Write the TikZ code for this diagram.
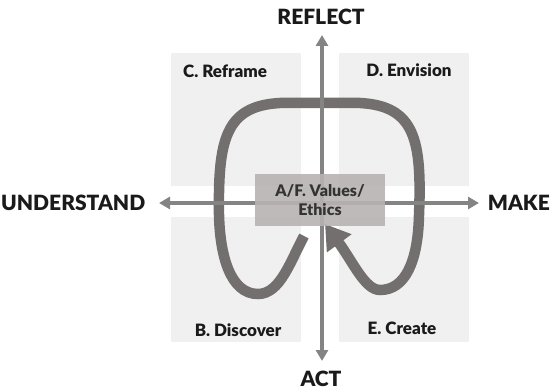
\documentclass[tikz,border=0pt]{standalone}
\usepackage{fontspec}
\setmainfont{Lato}[BoldFont={Lato Black}]
\usetikzlibrary{arrows.meta}
\definecolor{quadfill}{HTML}{F0F0F0}
\definecolor{axisgray}{HTML}{848484}
\definecolor{loopgray}{HTML}{736F6E}
\definecolor{corefill}{HTML}{B7B3B2}
\definecolor{labeltext}{HTML}{1A1A1A}
\definecolor{coretext}{HTML}{333333}
\begin{document}
\begin{tikzpicture}[x=1pt,y=-1pt,
  quad/.style={fill=quadfill,draw=none},
  axis/.style={draw=axisgray,line width=3.6pt,{Triangle[length=11pt,width=12pt]}-{Triangle[length=11pt,width=12pt]}},
  pole/.style={font=\bfseries\fontsize{21}{24}\selectfont,text=labeltext,inner sep=0pt},
  phase/.style={font=\bfseries\fontsize{17}{20}\selectfont,text=labeltext,inner sep=0pt},
  core/.style={fill=corefill,fill opacity=0.9,text opacity=1,text=coretext,
    font=\bfseries\fontsize{16}{19.5}\selectfont,align=center,
    minimum width=130pt,minimum height=51pt,inner sep=0pt},
  loop/.style={draw=loopgray,line width=10.5pt,line cap=butt}]
\useasboundingbox (0,0) rectangle (551,390);

% quadrant panels
\fill[quad] (171,53) rectangle (301,186);
\fill[quad] (339,53) rectangle (469,186);
\fill[quad] (171,217) rectangle (301,342);
\fill[quad] (339,217) rectangle (469,342);

% the process loop
\coordinate (loopstart) at (304,236);
\coordinate (looptip) at (325,224);
\draw[loop,-{Triangle[length=24pt,width=29pt]}] (loopstart)
  .. controls (290,262) and (280,294) .. (258,294)
  .. controls (230,294) and (220,255) .. (219,215)
  .. controls (218,140) and (225,106) .. (280,103)
  -- (360,103)
  .. controls (415,106) and (422,140) .. (419,215)
  .. controls (418,262) and (405,290) .. (380,290)
  .. controls (365,290) and (353,262) .. (looptip);

% axes
\coordinate (top) at (322,35);
\coordinate (bottom) at (322,361);
\coordinate (left) at (159,203);
\coordinate (right) at (479,203);
\draw[axis] (bottom) -- (top);
\draw[axis] (left) -- (right);

% centre
\node[core] (values) at (320,200) {A/F. Values/\\Ethics};

% pole labels
\node[pole] (reflect) at (321,17) {REFLECT};
\node[pole] (act) at (321,378.5) {ACT};
\node[pole,anchor=west] (understand) at (1,203) {UNDERSTAND};
\node[pole,anchor=east] (make) at (550,203) {MAKE};

% phase labels
\node[phase] (reframe) at (225,71) {C. Reframe};
\node[phase] (envision) at (409,70) {D. Envision};
\node[phase] (discover) at (238,330) {B. Discover};
\node[phase] (create) at (402,328) {E. Create};
\end{tikzpicture}
\end{document}
